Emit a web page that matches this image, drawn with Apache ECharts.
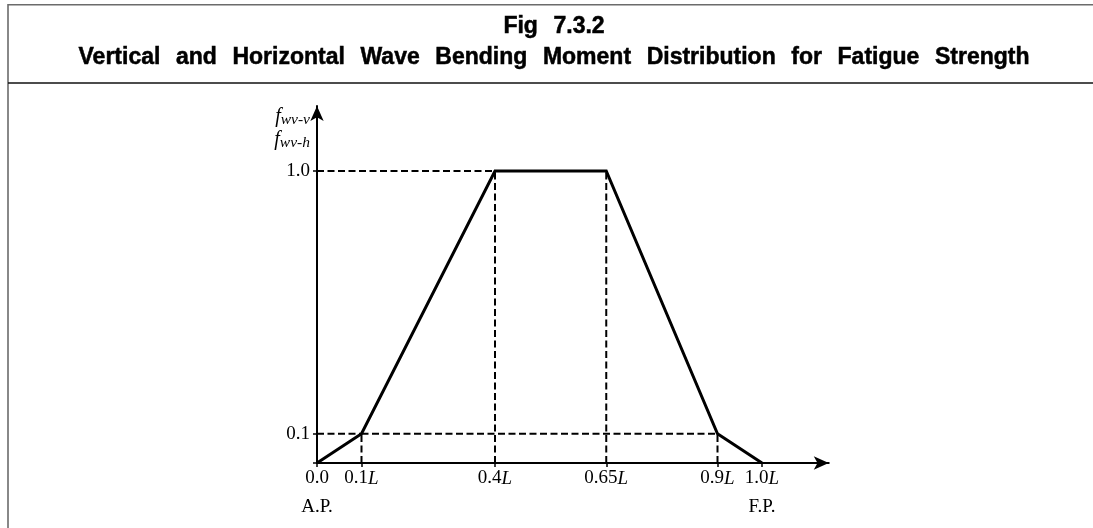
<!DOCTYPE html>
<html>
<head>
<meta charset="utf-8">
<script src="https://cdn.jsdelivr.net/npm/echarts@6/dist/echarts.min.js"></script>
<style>
html,body{margin:0;padding:0;background:#fff;}
#chart{width:1093px;height:528px;}
</style>
</head>
<body>
<div id="chart"></div>
<script>
// ---- data ----
const titleLine1Words = ['Fig', '7.3.2'];
const titleLine2Words = ['Vertical', 'and', 'Horizontal', 'Wave', 'Bending', 'Moment', 'Distribution', 'for', 'Fatigue', 'Strength'];
const xValues = [0, 0.1, 0.4, 0.65, 0.9, 1.0];
const yValues = [0, 0.1, 1.0, 1.0, 0.1, 0];
const xTickValues = [0, 0.1, 0.4, 0.65, 0.9, 1.0];
const xTickLabels = ['0.0', '0.1L', '0.4L', '0.65L', '0.9L', '1.0L'];
const yTickValues = [0.1, 1.0];
const yTickLabels = ['0.1', '1.0'];
const endValues = [0, 1.0];
const endLabels = ['A.P.', 'F.P.'];
const yNameLines = [['f', 'wv-v'], ['f', 'wv-h']];

// ---- build ----
const SERIF = '"Liberation Serif", "DejaVu Serif", serif';
const SANS = '"Liberation Sans", Arial, "DejaVu Sans", sans-serif';

function lookup(vals, labels, v) {
  for (let i = 0; i < vals.length; i++) if (Math.abs(vals[i] - v) < 1e-9) return labels[i];
  return '';
}
function richLabel(s) {
  if (!s) return '';
  if (s.endsWith('L')) return '{n|' + s.slice(0, -1) + '}{i|L}';
  return '{n|' + s + '}';
}
function titleRich(words) {
  return words.map(w => '{w|' + w + '}').join('{g| }');
}

const mainData = xValues.map((x, i) => [x, yValues[i]]);

// dashed guides derived from the data points
const guideSeries = [];
const dashStyle = { color: '#000', width: 2, type: [7, 3.5] };
mainData.forEach(p => {
  if (p[1] > 0) {
    guideSeries.push({ type: 'line', data: [[p[0], 0], [p[0], p[1]]], symbol: 'none', lineStyle: dashStyle, silent: true, z: 2 });
  }
});
const levels = [...new Set(yValues.filter(v => v > 0))];
levels.forEach(lv => {
  const xs = mainData.filter(p => p[1] === lv).map(p => p[0]);
  guideSeries.push({ type: 'line', data: [[0, lv], [Math.min(...xs), lv]], symbol: 'none', lineStyle: dashStyle, silent: true, z: 2 });
  if (xs.length > 1 && lv < 0.5) {
    guideSeries.push({ type: 'line', data: [[Math.min(...xs), lv], [Math.max(...xs), lv]], symbol: 'none', lineStyle: dashStyle, silent: true, z: 2 });
  }
});

const labelRich = {
  n: { fontFamily: SERIF, fontSize: 19, color: '#000' },
  i: { fontFamily: SERIF, fontSize: 19, fontStyle: 'italic', color: '#000' }
};
const titleTokens = {
  w: { fontFamily: SANS, fontSize: 23, fontWeight: 'bold', fill: '#000', stroke: '#000', lineWidth: 0.5 },
  g: { fontFamily: SANS, fontSize: 23, fontWeight: 'bold', fill: '#000', width: 15.6 }
};

const yName = yNameLines.map(l => '{f|' + l[0] + '}{s|' + l[1] + '}').join('\n');

const chart = echarts.init(document.getElementById('chart'), null, { renderer: 'canvas' });
chart.setOption({
  backgroundColor: '#fff',
  animation: false,
  grid: { left: 317, top: 106, width: 511.75, height: 357, containLabel: false, outerBoundsMode: 'none' },
  graphic: [
    { type: 'rect', shape: { x: 8, y: 4.8, width: 1200, height: 700 }, style: { fill: 'none', stroke: '#6b6b6b', lineWidth: 1.6 }, silent: true },
    { type: 'line', shape: { x1: 8, y1: 83, x2: 1093, y2: 83 }, style: { stroke: '#111', lineWidth: 1.5 }, silent: true },
    { type: 'text', x: 554, y: 26.5, style: { text: titleRich(titleLine1Words), align: 'center', verticalAlign: 'middle', rich: titleTokens }, silent: true },
    { type: 'text', x: 554, y: 57.5, style: { text: titleRich(titleLine2Words), align: 'center', verticalAlign: 'middle', rich: titleTokens }, silent: true }
  ],
  xAxis: [
    {
      type: 'value', min: 0, max: 1.15,
      splitLine: { show: false },
      axisLine: { show: true, onZero: false, lineStyle: { color: '#000', width: 2 }, symbol: ['none', 'arrow'], symbolSize: [10, 15] },
      axisTick: { show: true, customValues: xTickValues, length: 4, lineStyle: { color: '#000', width: 1.5 } },
      axisLabel: {
        show: true, customValues: xTickValues, margin: 6, hideOverlap: false,
        formatter: v => richLabel(lookup(xTickValues, xTickLabels, v)),
        rich: labelRich
      }
    },
    {
      type: 'value', min: 0, max: 1.15, position: 'bottom', offset: 29,
      splitLine: { show: false },
      axisLine: { show: false },
      axisTick: { show: false },
      axisLabel: {
        show: true, customValues: endValues, margin: 6,
        formatter: v => richLabel(lookup(endValues, endLabels, v)),
        rich: labelRich
      }
    }
  ],
  yAxis: {
    type: 'value', min: 0, max: 1.2226,
    splitLine: { show: false },
    axisLine: { show: true, onZero: false, lineStyle: { color: '#000', width: 2 }, symbol: ['none', 'arrow'], symbolSize: [10, 15] },
    axisTick: { show: true, customValues: [0].concat(yTickValues), length: 4, lineStyle: { color: '#000', width: 1.5 } },
    axisLabel: {
      show: true, customValues: yTickValues, margin: 7,
      formatter: v => richLabel(lookup(yTickValues, yTickLabels, v)),
      rich: labelRich
    },
    name: yName,
    nameLocation: 'end',
    nameGap: 1,
    nameMoveOverlap: false,
    nameTextStyle: {
      align: 'right', verticalAlign: 'top', padding: [0, 7, 0, 0],
      rich: {
        f: { fontFamily: SERIF, fontSize: 20, fontStyle: 'italic', color: '#000', lineHeight: 23 },
        s: { fontFamily: SERIF, fontSize: 15.5, fontStyle: 'italic', color: '#000', lineHeight: 15, verticalAlign: 'bottom' }
      }
    }
  },
  series: [
    { type: 'line', data: mainData, symbol: 'none', lineStyle: { color: '#000', width: 3, join: 'miter' }, z: 5, silent: true }
  ].concat(guideSeries)
});
</script>
</body>
</html>
